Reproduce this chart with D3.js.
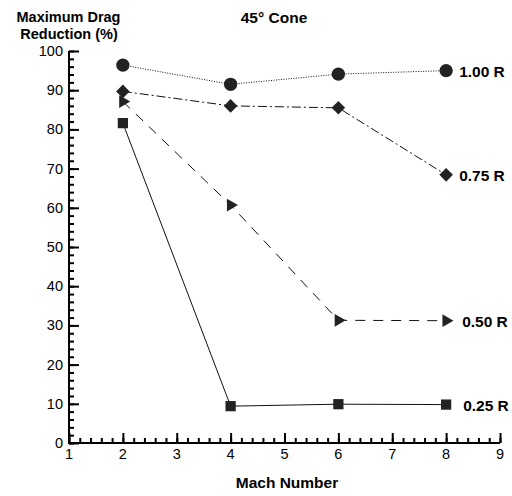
<!DOCTYPE html>
<html>
<head>
	<title>45 cone drag reduction</title>
	<script src="https://d3js.org/d3.v7.min.js"></script>
	<style>
		body { margin: 0; background: #fff; }
		text { font-family: "Liberation Sans", Arial, sans-serif; fill: #000; }
	</style>
</head>
<body>
	<script type="text/javascript">

		var mach = [2, 4, 6, 8];
		var r100 = [96.4, 91.5, 94.1, 95.0];
		var r075 = [89.7, 86.0, 85.5, 68.4];
		var r050 = [87.1, 60.7, 31.3, 31.2];
		var r025 = [81.6, 9.4, 9.9, 9.8];
		var seriesNames = ["1.00 R", "0.75 R", "0.50 R", "0.25 R"];
		var xTicks = [1, 2, 3, 4, 5, 6, 7, 8, 9];
		var yTicks = [0, 10, 20, 30, 40, 50, 60, 70, 80, 90, 100];

		var width = 512;
		var height = 496;

		var x = d3.scaleLinear().domain([1, 9]).range([69, 500]);
		var y = d3.scaleLinear().domain([0, 100]).range([443, 51]);

		var svg = d3.select("body").append("svg")
			.attr("width", width)
			.attr("height", height);

		// axes, ticks drawn inward
		var xAxis = d3.axisTop(x).tickValues(xTicks).tickSize(10).tickFormat("");
		var xMinor = d3.axisTop(x).tickValues(d3.range(1, 9.01, 0.2)).tickSize(5).tickFormat("");
		var yAxis = d3.axisRight(y).tickValues(yTicks).tickSize(10).tickFormat("");
		var yMinor = d3.axisRight(y).tickValues(d3.range(0, 100.1, 2)).tickSize(5).tickFormat("");

		[[xMinor, "x"], [xAxis, "x"], [yMinor, "y"], [yAxis, "y"]].forEach(function (a) {
			var g = svg.append("g")
				.attr("transform", a[1] == "x" ? "translate(0," + y(0) + ")" : "translate(" + x(1) + ",0)")
				.call(a[0]);
			g.select(".domain").attr("stroke-width", 2).attr("d", a[1] == "x"
				? "M" + (x(1) - 1) + ",0H" + x(9) : "M0," + (y(0) + 1) + "V" + y(100));
			g.selectAll(".tick line").attr("stroke-width", 2);
		});

		svg.selectAll(".xlab").data(xTicks).enter().append("text")
			.attr("x", function (d) { return x(d); })
			.attr("y", y(0) + 16)
			.attr("text-anchor", "middle")
			.attr("font-size", 14.5)
			.text(function (d) { return d; });

		svg.selectAll(".ylab").data(yTicks).enter().append("text")
			.attr("x", x(1) - 6)
			.attr("y", function (d) { return y(d) + 5; })
			.attr("text-anchor", "end")
			.attr("font-size", 14.5)
			.text(function (d) { return d; });

		var series = [r100, r075, r050, r025];
		var dashes = ["1,1.5", "9,3,2,3", "10,8", null];
		var symbols = [d3.symbolCircle, d3.symbolSquare, d3.symbolTriangle, d3.symbolSquare];
		var sizes = [140, 92, 70, 105];
		var rotate = [0, 45, 90, 0];
		var labelDx = [13, 13, 16, 17];

		var line = d3.line()
			.x(function (d, i) { return x(mach[i]); })
			.y(function (d) { return y(d); });

		series.forEach(function (s, k) {
			svg.append("path")
				.attr("d", line(s))
				.attr("fill", "none")
				.attr("stroke", "#111")
				.attr("stroke-width", 1)
				.attr("stroke-dasharray", dashes[k]);

			svg.selectAll(".m" + k).data(s).enter().append("path")
				.attr("d", d3.symbol().type(symbols[k]).size(sizes[k]))
				.attr("transform", function (d, i) {
					return "translate(" + x(mach[i]) + "," + y(d) + ") rotate(" + rotate[k] + ")";
				})
				.attr("fill", "#222");

			svg.append("text")
				.attr("x", x(mach[3]) + labelDx[k])
				.attr("y", y(s[3]) + 6)
				.attr("font-size", 15.5)
				.attr("font-weight", "bold")
				.text(seriesNames[k]);
		});

		svg.append("text")
			.attr("x", 274).attr("y", 23)
			.attr("text-anchor", "middle")
			.attr("font-size", 15.5).attr("font-weight", "bold")
			.text("45° Cone");

		// two-line y title
		svg.append("text")
			.attr("x", 68.5).attr("y", 22)
			.attr("text-anchor", "middle")
			.attr("font-size", 14.5).attr("font-weight", "bold")
			.text("Maximum Drag");
		svg.append("text")
			.attr("x", 69).attr("y", 39)
			.attr("text-anchor", "middle")
			.attr("font-size", 14.5).attr("font-weight", "bold")
			.text("Reduction (%)");

		svg.append("text")
			.attr("x", 287).attr("y", 488)
			.attr("text-anchor", "middle")
			.attr("font-size", 15.5).attr("font-weight", "bold")
			.text("Mach Number");

	</script>
</body>
</html>
